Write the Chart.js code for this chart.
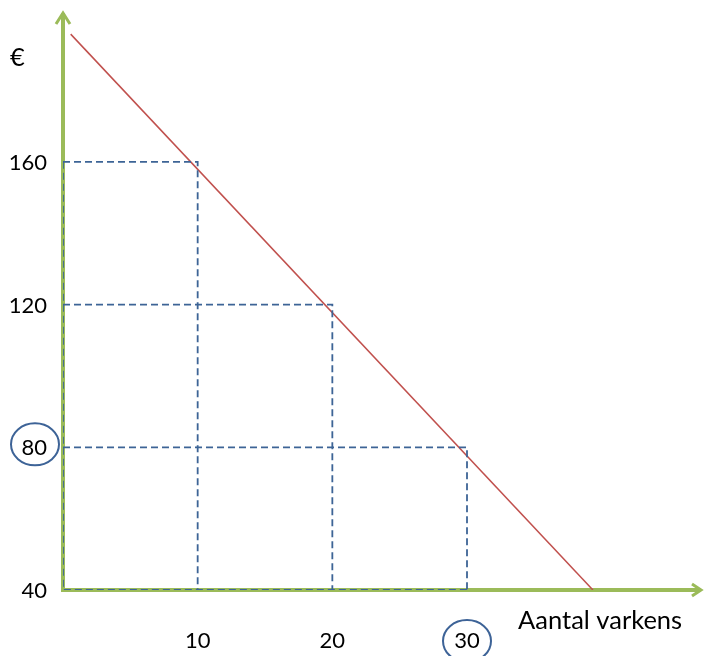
<!DOCTYPE html>
<html>
<head>
<meta charset="utf-8">
<script src="https://cdn.jsdelivr.net/npm/chart.js@4"></script>
<style>
html,body{margin:0;padding:0;background:#fff;}
#wrap{width:704px;height:656px;position:relative;}
</style>
</head>
<body>
<div id="wrap"><canvas id="c" width="704" height="656"></canvas></div>
<script>
// Data
const xTicks = [10, 20, 30];
const yTicks = [40, 80, 120, 160];
const demandLine = [{x: 0.57, y: 195.8}, {x: 39.35, y: 40}];
const guide160 = [{x: 0, y: 160}, {x: 10, y: 160}, {x: 10, y: 40}];
const guide120 = [{x: 0, y: 120}, {x: 20, y: 120}, {x: 20, y: 40}];
const guide80  = [{x: 0, y: 80}, {x: 30, y: 80}, {x: 30, y: 40}];
const guideAxes = [{x: 0, y: 160}, {x: 0, y: 40}, {x: 30, y: 40}];
const circledY = 80;
const circledX = 30;
const yTitle = '€';
const xTitle = 'Aantal varkens';

const GREEN = '#9bbb59', RED = '#c0504d', BLUE = '#3d6496', CIRCLE = '#3d6397';
const FONT = 'Lato';

const axesPlugin = {
  id: 'axesPlugin',
  beforeDatasetsDraw(chart) {
    const {ctx, chartArea: a} = chart;
    ctx.save();
    ctx.strokeStyle = GREEN;
    ctx.lineWidth = 4;
    ctx.lineCap = 'butt';
    ctx.beginPath();
    ctx.moveTo(a.left, a.bottom + 2);
    ctx.lineTo(a.left, a.top + 1);
    ctx.moveTo(a.left - 2, a.bottom);
    ctx.lineTo(a.right - 1, a.bottom);
    ctx.stroke();
    ctx.lineWidth = 3;
    ctx.lineJoin = 'miter';
    ctx.beginPath();
    ctx.moveTo(a.left - 7, a.top + 12);
    ctx.lineTo(a.left, a.top + 1);
    ctx.lineTo(a.left + 7, a.top + 12);
    ctx.moveTo(a.right - 10, a.bottom - 6);
    ctx.lineTo(a.right - 1, a.bottom);
    ctx.lineTo(a.right - 10, a.bottom + 6);
    ctx.stroke();
    ctx.restore();
  },
  afterDraw(chart) {
    const {ctx, scales} = chart;
    ctx.save();
    ctx.strokeStyle = CIRCLE;
    ctx.lineWidth = 2;
    const cy = scales.y.getPixelForValue(circledY) - 3;
    ctx.beginPath();
    ctx.ellipse(35, cy, 24, 21, 0, 0, Math.PI * 2);
    ctx.stroke();
    const cx = scales.x.getPixelForValue(circledX);
    ctx.beginPath();
    ctx.ellipse(cx, 641, 24, 21, 0, 0, Math.PI * 2);
    ctx.stroke();
    ctx.fillStyle = '#000';
    ctx.font = '25.5px ' + FONT;
    ctx.textBaseline = 'middle';
    ctx.textAlign = 'left';
    ctx.fillText(yTitle, 10, 58);
    ctx.fillText(xTitle, 518, 621);
    ctx.restore();
  }
};

const dashed = (data) => ({
  data, showLine: true, borderColor: BLUE, borderWidth: 1.8,
  borderDash: [7, 4], pointRadius: 0, fill: false, tension: 0
});

new Chart(document.getElementById('c'), {
  type: 'scatter',
  data: {
    datasets: [
      dashed(guideAxes),
      dashed(guide160),
      dashed(guide120),
      dashed(guide80),
      {data: demandLine, showLine: true, borderColor: RED, borderWidth: 1.5, pointRadius: 0, fill: false}
    ]
  },
  options: {
    responsive: false,
    animation: false,
    devicePixelRatio: 1,
    layout: {autoPadding: false, padding: {top: 12, right: 2, left: 0, bottom: 0}},
    plugins: {legend: {display: false}, tooltip: {enabled: false}},
    scales: {
      x: {
        type: 'linear', min: 0, max: 47.45,
        grid: {display: false, drawTicks: false},
        border: {display: false},
        afterBuildTicks(s) { s.ticks = xTicks.map(v => ({value: v})); },
        afterFit(s) { s.height = 66; s.paddingLeft = 0; s.paddingRight = 0; },
        ticks: {color: '#000', font: {family: FONT, size: 22}, padding: 38, maxRotation: 0, autoSkip: false}
      },
      y: {
        type: 'linear', min: 40, max: 202,
        grid: {display: false, drawTicks: false},
        border: {display: false},
        afterBuildTicks(s) { s.ticks = yTicks.map(v => ({value: v})); },
        afterFit(s) { s.width = 63; s.paddingTop = 0; s.paddingBottom = 0; },
        ticks: {color: '#000', font: {family: FONT, size: 22}, padding: 16, labelOffset: 1, autoSkip: false}
      }
    }
  },
  plugins: [axesPlugin]
});
</script>
</body>
</html>
